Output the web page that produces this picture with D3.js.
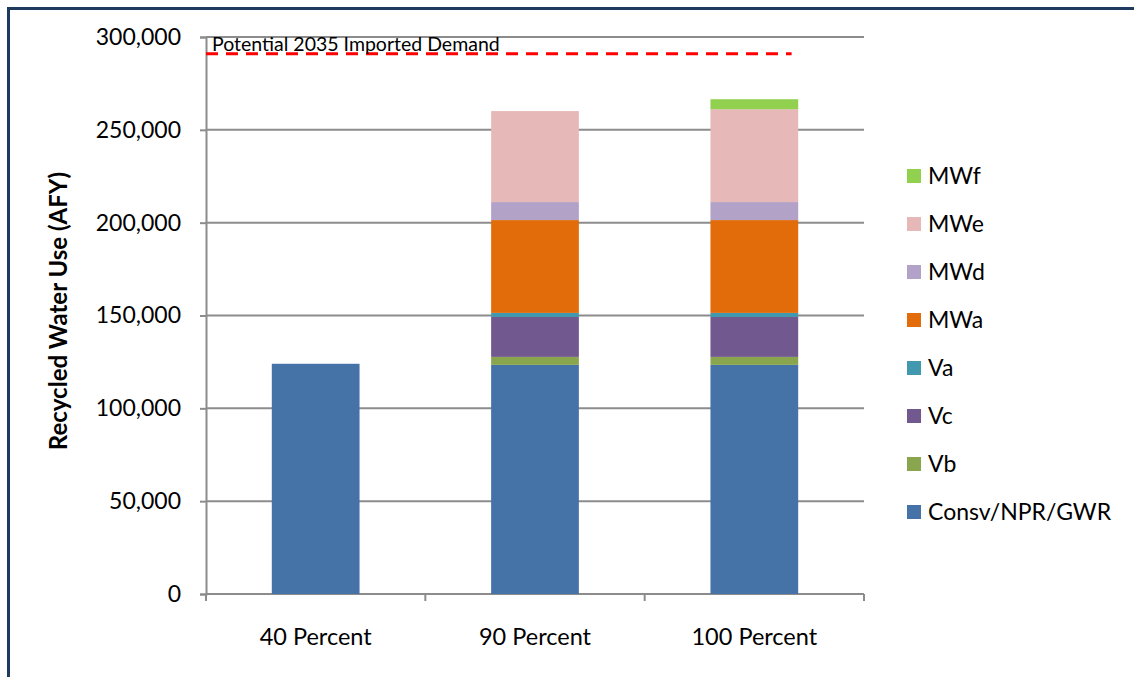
<!DOCTYPE html>
<html>
<head>
<meta charset="utf-8">
<script src="https://cdn.jsdelivr.net/npm/d3@7"></script>
<style>
	body { margin: 0; background: #fff; }
	svg { display: block; font-family: Lato, "Open Sans", sans-serif; }
</style>
</head>
<body>
<svg id="chart" width="1134" height="677"></svg>
<script>
// categories and stacked series (bottom to top)
const categories = ["40 Percent", "90 Percent", "100 Percent"];
const seriesNames = ["Consv/NPR/GWR", "Vb", "Vc", "Va", "MWa", "MWd", "MWe", "MWf"];
const consv = [124000, 123400, 123400];
const vb = [0, 4300, 4300];
const vc = [0, 21500, 21500];
const va = [0, 2200, 2200];
const mwa = [0, 50000, 50000];
const mwd = [0, 9700, 9700];
const mwe = [0, 49000, 50000];
const mwf = [0, 0, 5400];
const colors = ["#4572A7", "#89A54E", "#71588F", "#4198AF", "#E36C0A", "#B2A2C7", "#E6B9B8", "#92D050"];
const yTicks = [0, 50000, 100000, 150000, 200000, 250000, 300000];
const demandValue = 291000;
const demandLabel = "Potential 2035 Imported Demand";
const demandSpan = [-0.5, 2.17]; // in category index units

const seriesValues = [consv, vb, vc, va, mwa, mwd, mwe, mwf];
const rows = categories.map((c, i) => {
	const r = { cat: c };
	seriesNames.forEach((s, j) => (r[s] = seriesValues[j][i]));
	return r;
});

const svg = d3.select("#chart");
const plot = { left: 206, right: 864, top: 37, bottom: 594 };

// outer frame
svg.append("rect")
	.attr("x", 8.5)
	.attr("y", 8.5)
	.attr("width", 1140)
	.attr("height", 700)
	.attr("fill", "none")
	.attr("stroke", "#1F3A5F")
	.attr("stroke-width", 3);

const x = d3
	.scaleBand()
	.domain(categories)
	.range([plot.left, plot.right])
	.paddingInner(0.6)
	.paddingOuter(0.3);
const xi = d3
	.scaleLinear()
	.domain([0, 2])
	.range([x(categories[0]) + x.bandwidth() / 2, x(categories[2]) + x.bandwidth() / 2]);
const y = d3.scaleLinear().domain([0, 300000]).range([plot.bottom, plot.top]);

// gridlines
svg.append("g")
	.selectAll("line")
	.data(yTicks)
	.join("line")
	.attr("x1", plot.left)
	.attr("x2", plot.right)
	.attr("y1", (d) => y(d))
	.attr("y2", (d) => y(d))
	.attr("stroke", "#8C8C8C")
	.attr("stroke-width", 2);

// y axis
const yAxis = svg.append("g")
	.attr("transform", `translate(${plot.left},0)`)
	.call(d3.axisLeft(y).tickValues(yTicks).tickSize(6).tickPadding(19).tickFormat(d3.format(",")));
yAxis.select(".domain").attr("stroke", "#8C8C8C").attr("stroke-width", 2);
yAxis.selectAll(".tick line").attr("stroke", "#8C8C8C").attr("stroke-width", 2);
yAxis.selectAll(".tick text").attr("font-size", 23).attr("fill", "#000").attr("font-family", "Lato");

// x axis with boundary ticks
const xAxis = svg.append("g").attr("transform", `translate(0,${plot.bottom})`);
xAxis.append("line")
	.attr("x1", plot.left)
	.attr("x2", plot.right)
	.attr("stroke", "#8C8C8C")
	.attr("stroke-width", 2);
const bounds = categories.map((c) => x(c) - (x.step() - x.bandwidth()) / 2).concat([plot.right]);
xAxis.selectAll(".bt")
	.data(bounds)
	.join("line")
	.attr("x1", (d) => d)
	.attr("x2", (d) => d)
	.attr("y1", 0)
	.attr("y2", 7)
	.attr("stroke", "#8C8C8C")
	.attr("stroke-width", 2);
xAxis.selectAll("text")
	.data(categories)
	.join("text")
	.attr("x", (d) => x(d) + x.bandwidth() / 2)
	.attr("y", 51)
	.attr("text-anchor", "middle")
	.attr("font-size", 23.5)
	.text((d) => d);

// stacked bars
const stacked = d3.stack().keys(seriesNames)(rows);
svg.append("g")
	.selectAll("g")
	.data(stacked)
	.join("g")
	.attr("fill", (d, i) => colors[i])
	.selectAll("rect")
	.data((d) => d)
	.join("rect")
	.attr("x", (d) => x(d.data.cat))
	.attr("y", (d) => y(d[1]))
	.attr("width", x.bandwidth())
	.attr("height", (d) => y(d[0]) - y(d[1]));

// demand line
svg.append("line")
	.attr("x1", xi(demandSpan[0]))
	.attr("x2", xi(demandSpan[1]))
	.attr("y1", y(demandValue))
	.attr("y2", y(demandValue))
	.attr("stroke", "#FF0000")
	.attr("stroke-width", 3)
	.attr("stroke-dasharray", "12,8");
svg.append("text")
	.attr("x", xi(demandSpan[0]) + 6)
	.attr("y", y(demandValue) - 3)
	.attr("font-size", 19.5)
	.text(demandLabel);

// y title
svg.append("text")
	.attr("transform", `translate(67,311) rotate(-90)`)
	.attr("text-anchor", "middle")
	.attr("font-size", 24)
	.attr("font-weight", "bold")
	.text("Recycled Water Use (AFY)");

// legend (top to bottom reversed order)
const legendItems = seriesNames.map((s, i) => ({ name: s, color: colors[i] })).reverse();
const legend = svg.append("g")
	.selectAll("g")
	.data(legendItems)
	.join("g")
	.attr("transform", (d, i) => `translate(907,${176 + i * 48})`);
legend.append("rect")
	.attr("x", 0)
	.attr("y", -7)
	.attr("width", 14)
	.attr("height", 14)
	.attr("fill", (d) => d.color);
legend.append("text")
	.attr("x", 21)
	.attr("dy", "0.36em")
	.attr("font-size", 23)
	.text((d) => d.name);
</script>
</body>
</html>
